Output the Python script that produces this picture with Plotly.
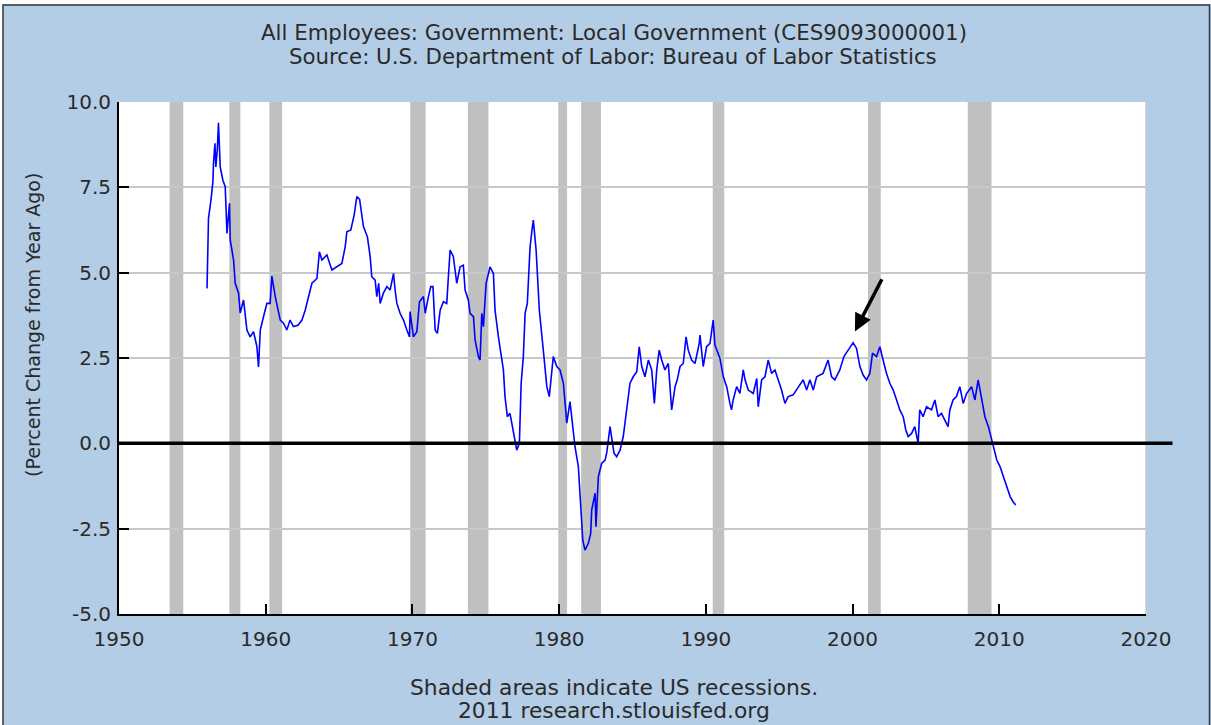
import plotly.graph_objects as go

# ---- data ----
years = [
    1956.00, 1956.05, 1956.10, 1956.27, 1956.40, 1956.44, 1956.54, 1956.60, 1956.70, 1956.78,
    1956.85, 1956.90, 1957.08, 1957.24, 1957.36, 1957.53, 1957.58, 1957.81, 1957.92, 1958.15,
    1958.26, 1958.49, 1958.72, 1958.94, 1959.17, 1959.40, 1959.51, 1959.63, 1959.85, 1960.08,
    1960.30, 1960.42, 1960.65, 1960.80, 1960.99, 1961.21, 1961.44, 1961.66, 1961.89, 1962.20,
    1962.47, 1962.69, 1962.92, 1963.15, 1963.49, 1963.66, 1963.83, 1964.17, 1964.51, 1964.85,
    1965.19, 1965.42, 1965.53, 1965.80, 1965.87, 1966.03, 1966.21, 1966.40, 1966.66, 1966.93,
    1967.12, 1967.23, 1967.46, 1967.57, 1967.70, 1967.80, 1968.02, 1968.26, 1968.48, 1968.71,
    1968.82, 1968.94, 1969.16, 1969.39, 1969.62, 1969.80, 1969.84, 1970.07, 1970.30, 1970.48,
    1970.75, 1970.87, 1971.09, 1971.25, 1971.40, 1971.55, 1971.70, 1971.89, 1972.11, 1972.34,
    1972.45, 1972.57, 1972.79, 1973.02, 1973.25, 1973.47, 1973.59, 1973.81, 1973.93, 1974.16,
    1974.27, 1974.50, 1974.61, 1974.73, 1974.84, 1975.02, 1975.29, 1975.52, 1975.57, 1975.63,
    1975.86, 1976.09, 1976.20, 1976.31, 1976.47, 1976.65, 1976.84, 1977.00, 1977.11, 1977.29,
    1977.41, 1977.56, 1977.68, 1977.83, 1978.02, 1978.15, 1978.24, 1978.43, 1978.65, 1978.92,
    1979.16, 1979.33, 1979.60, 1979.84, 1980.06, 1980.29, 1980.52, 1980.74, 1980.93, 1981.08,
    1981.31, 1981.42, 1981.61, 1981.76, 1981.99, 1982.15, 1982.22, 1982.45, 1982.51, 1982.67,
    1982.90, 1983.13, 1983.24, 1983.47, 1983.58, 1983.74, 1983.92, 1984.15, 1984.37, 1984.56,
    1984.71, 1984.83, 1985.05, 1985.29, 1985.46, 1985.63, 1985.85, 1986.08, 1986.31, 1986.49,
    1986.65, 1986.82, 1986.99, 1987.21, 1987.44, 1987.67, 1987.90, 1988.05, 1988.24, 1988.46,
    1988.65, 1988.80, 1989.03, 1989.26, 1989.55, 1989.60, 1989.82, 1990.05, 1990.28, 1990.50,
    1990.62, 1990.96, 1991.19, 1991.42, 1991.64, 1991.75, 1991.86, 1992.10, 1992.32, 1992.55,
    1992.67, 1992.89, 1993.23, 1993.47, 1993.57, 1993.80, 1994.03, 1994.25, 1994.48, 1994.71,
    1994.93, 1995.16, 1995.39, 1995.61, 1995.95, 1996.29, 1996.63, 1996.87, 1997.09, 1997.32,
    1997.55, 1997.99, 1998.33, 1998.57, 1998.79, 1999.13, 1999.41, 1999.70, 2000.04, 2000.27,
    2000.50, 2000.72, 2000.95, 2001.18, 2001.36, 2001.63, 2001.86, 2002.08, 2002.31, 2002.54,
    2002.77, 2003.00, 2003.22, 2003.45, 2003.63, 2003.79, 2004.02, 2004.24, 2004.47, 2004.58,
    2004.81, 2005.04, 2005.38, 2005.61, 2005.83, 2006.06, 2006.29, 2006.51, 2006.63, 2006.85,
    2007.08, 2007.31, 2007.54, 2007.77, 2008.11, 2008.34, 2008.56, 2008.79, 2009.02, 2009.26,
    2009.49, 2009.55, 2009.83, 2010.05, 2010.28, 2010.51, 2010.74, 2010.94, 2011.12,
]
pct_change = [
    4.54, 5.30, 6.59, 7.13, 7.66, 8.20, 8.79, 8.10, 8.60, 9.39,
    8.20, 8.10, 7.71, 7.52, 6.15, 7.03, 5.96, 5.37, 4.69, 4.40,
    3.82, 4.20, 3.32, 3.12, 3.27, 2.83, 2.24, 3.32, 3.71, 4.10,
    4.10, 4.90, 4.30, 4.00, 3.61, 3.52, 3.32, 3.61, 3.42, 3.46,
    3.61, 3.90, 4.30, 4.69, 4.83, 5.61, 5.37, 5.52, 5.08, 5.17,
    5.27, 5.76, 6.20, 6.25, 6.40, 6.69, 7.23, 7.15, 6.35, 6.05,
    5.47, 4.88, 4.78, 4.30, 4.69, 4.10, 4.40, 4.59, 4.49, 4.98,
    4.49, 4.10, 3.81, 3.61, 3.32, 3.12, 3.86, 3.12, 3.27, 4.15,
    4.30, 3.81, 4.30, 4.59, 4.59, 3.32, 3.22, 3.90, 4.15, 4.10,
    4.88, 5.66, 5.47, 4.69, 5.17, 5.22, 4.49, 4.20, 3.81, 3.71,
    3.03, 2.54, 2.44, 3.81, 3.42, 4.69, 5.17, 4.98, 4.49, 3.90,
    3.12, 2.54, 2.15, 1.37, 0.78, 0.88, 0.39, 0.10, -0.20, 0.00,
    1.76, 2.54, 3.81, 4.10, 5.76, 6.25, 6.54, 5.66, 3.90, 2.73,
    1.66, 1.37, 2.54, 2.25, 2.15, 1.76, 0.59, 1.22, 0.49, -0.10,
    -0.68, -1.46, -2.83, -3.13, -2.93, -2.64, -1.95, -1.46, -2.44, -0.98,
    -0.59, -0.49, -0.29, 0.49, 0.10, -0.29, -0.39, -0.20, 0.20, 0.88,
    1.46, 1.76, 1.95, 2.10, 2.83, 2.25, 1.95, 2.44, 2.15, 1.17,
    2.15, 2.73, 2.44, 2.15, 2.34, 0.98, 1.66, 1.86, 2.25, 2.34,
    3.12, 2.73, 2.44, 2.34, 2.93, 3.17, 2.25, 2.83, 2.93, 3.61,
    2.88, 2.49, 1.95, 1.66, 1.17, 0.98, 1.27, 1.66, 1.46, 2.15,
    1.86, 1.56, 1.46, 1.90, 1.07, 1.86, 1.95, 2.44, 2.05, 2.15,
    1.86, 1.56, 1.17, 1.37, 1.42, 1.66, 1.86, 1.56, 1.86, 1.56,
    1.95, 2.05, 2.44, 1.95, 1.86, 2.15, 2.54, 2.73, 2.95, 2.78,
    2.25, 2.00, 1.86, 2.05, 2.64, 2.54, 2.83, 2.44, 2.05, 1.76,
    1.56, 1.27, 0.98, 0.78, 0.39, 0.20, 0.29, 0.49, 0.00, 0.98,
    0.78, 1.07, 0.98, 1.27, 0.78, 0.88, 0.68, 0.49, 0.98, 1.27,
    1.37, 1.66, 1.17, 1.46, 1.66, 1.27, 1.86, 1.37, 0.78, 0.49,
    0.10, 0.00, -0.49, -0.68, -0.98, -1.27, -1.56, -1.71, -1.81,
]
recession_start = [1953.45, 1957.52, 1960.25, 1969.85, 1973.78, 1979.94, 1981.50, 1990.47, 2001.05, 2007.85]
recession_end = [1954.38, 1958.27, 1961.12, 1970.90, 1975.18, 1980.54, 1982.85, 1991.25, 2001.92, 2009.47]
x_ticks = [1950, 1960, 1970, 1980, 1990, 2000, 2010, 2020]
y_ticks = [-5.0, -2.5, 0.0, 2.5, 5.0, 7.5, 10.0]
arrow_head = (2000.16, 3.28)
arrow_tail = (2002.05, 4.85)

# ---- figure geometry ----
W, H = 1211, 725
L, R, T, B = 119, 65, 102, 111
PW, PH = W - L - R, H - T - B


def px_x(px):
    return (px - L) / PW


def px_y(py):
    return (H - B - py) / PH


FONT = "DejaVu Sans"
TXT = "#2a2a2a"
BLUE_BG = "#B4CDE6"

fig = go.Figure()
fig.add_trace(go.Scatter(
    x=years, y=pct_change, mode="lines",
    line=dict(color="#0000FF", width=1.6),
    hoverinfo="x+y", showlegend=False,
))

shapes = []
# white margins around the framed figure + frame
shapes.append(dict(type="rect", xref="paper", yref="paper",
                   x0=px_x(-5), x1=px_x(W + 5), y0=px_y(-5), y1=px_y(4),
                   fillcolor="white", line=dict(width=0), layer="below"))
shapes.append(dict(type="rect", xref="paper", yref="paper",
                   x0=px_x(-5), x1=px_x(2.5), y0=px_y(-5), y1=px_y(H + 5),
                   fillcolor="white", line=dict(width=0), layer="below"))
shapes.append(dict(type="rect", xref="paper", yref="paper",
                   x0=px_x(3), x1=px_x(1209.5), y0=px_y(5), y1=px_y(H + 20),
                   fillcolor="rgba(0,0,0,0)", line=dict(color="#3a3a3a", width=1.5)))
# recessions
for s, e in zip(recession_start, recession_end):
    shapes.append(dict(type="rect", xref="x", yref="paper", x0=s, x1=e, y0=0, y1=1,
                       fillcolor="#C0C0C0", line=dict(width=0), layer="between"))
# right edge light line
shapes.append(dict(type="line", xref="paper", yref="paper", x0=1, x1=1, y0=0, y1=1,
                   line=dict(color="#C8C8C8", width=1.5), layer="between"))
# zero line extending past the plot
shapes.append(dict(type="line", xref="paper", yref="y", x0=0, x1=px_x(1172.5), y0=0, y1=0,
                   line=dict(color="black", width=3.5), layer="above"))

TF = 21.3
NF = 21.8
annotations = [
    dict(text="All Employees: Government: Local Government (CES9093000001)",
         xref="paper", yref="paper", x=px_x(614), y=px_y(32), xanchor="center", yanchor="middle",
         showarrow=False, font=dict(family=FONT, size=TF, color=TXT)),
    dict(text="Source: U.S. Department of Labor: Bureau of Labor Statistics",
         xref="paper", yref="paper", x=px_x(613), y=px_y(56), xanchor="center", yanchor="middle",
         showarrow=False, font=dict(family=FONT, size=TF, color=TXT)),
    dict(text="Shaded areas indicate US recessions.",
         xref="paper", yref="paper", x=px_x(614), y=px_y(687), xanchor="center", yanchor="middle",
         showarrow=False, font=dict(family=FONT, size=NF, color=TXT)),
    dict(text="2011 research.stlouisfed.org",
         xref="paper", yref="paper", x=px_x(614), y=px_y(710), xanchor="center", yanchor="middle",
         showarrow=False, font=dict(family=FONT, size=NF, color=TXT)),
    dict(text="(Percent Change from Year Ago)",
         xref="paper", yref="paper", x=px_x(33), y=px_y(325), xanchor="center", yanchor="middle",
         textangle=-90, showarrow=False, font=dict(family=FONT, size=19, color=TXT)),
    dict(text="", x=arrow_head[0], y=arrow_head[1], xref="x", yref="y",
         ax=arrow_tail[0], ay=arrow_tail[1], axref="x", ayref="y",
         showarrow=True, arrowhead=2, arrowsize=1.0, arrowwidth=3.5, arrowcolor="black"),
]

fig.update_layout(
    width=W, height=H,
    margin=dict(l=L, r=R, t=T, b=B, pad=0),
    paper_bgcolor=BLUE_BG, plot_bgcolor="white",
    shapes=shapes, annotations=annotations,
    showlegend=False,
    xaxis=dict(range=[1950, 2020], tickmode="array", tickvals=x_ticks,
               ticktext=[str(v) for v in x_ticks],
               showgrid=False, zeroline=False,
               showline=True, linecolor="black", linewidth=2,
               ticks="inside", ticklen=10, tickwidth=2, tickcolor="black",
               ticklabelstandoff=6,
               tickfont=dict(family=FONT, size=20, color=TXT)),
    yaxis=dict(range=[-5, 10], tickmode="array", tickvals=y_ticks,
               ticktext=["%.1f" % v for v in y_ticks],
               showgrid=True, gridcolor="#C8C8C8", gridwidth=1.5, zeroline=False,
               showline=True, linecolor="black", linewidth=2,
               ticks="inside", ticklen=10, tickwidth=2, tickcolor="black",
               ticklabelstandoff=2,
               tickfont=dict(family=FONT, size=20, color=TXT)),
)

fig.write_html(
    "out.html",
    config={"displayModeBar": False},
    post_script="document.body.style.margin='0px';document.body.style.overflow='hidden';",
)
